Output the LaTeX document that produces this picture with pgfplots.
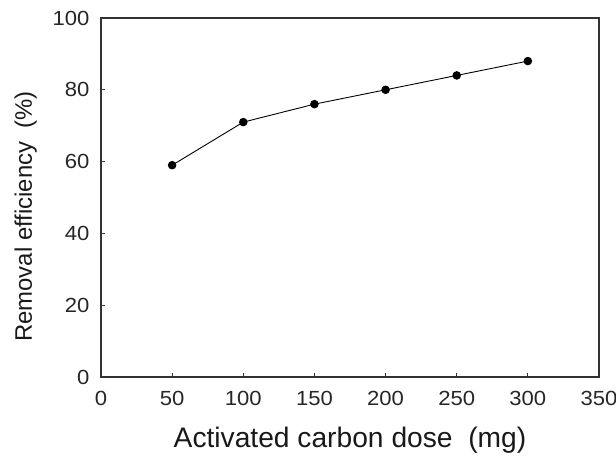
\documentclass[border=0pt]{standalone}
\usepackage{fontspec}
\setmainfont{Liberation Sans}[FakeStretch=1.08]
\newfontfamily\labelfont{Liberation Sans}
\usepackage{pgfplots}
\pgfplotsset{compat=1.18}
\begin{document}
\begin{tikzpicture}
\path[use as bounding box] (-101bp,-79bp) rectangle (515bp,377bp);
\begin{axis}[
  at={(0,0)}, anchor=south west,
  scale only axis, width=498bp, height=359bp,
  xmin=0, xmax=350, ymin=0, ymax=100,
  xtick={0,50,...,350}, ytick={0,20,...,100},
  tick align=inside, major tick length=4bp,
  xtick pos=bottom, ytick pos=left,
  axis line style={line width=1.2bp, color=black!80},
  tick style={line width=0.9bp, color=black!80},
  /pgf/number format/assume math mode=true,
  ticklabel style={font=\fontsize{20.5}{24}\selectfont, color=black!85},
  xticklabel style={yshift=-11bp},
  yticklabel style={xshift=-8bp},
  xlabel={Activated carbon dose\ \ (mg)},
  ylabel={Removal efficiency\ \ (\%)},
  xlabel style={font=\labelfont\fontsize{28.3}{31}\selectfont, color=black!90, yshift=-14bp},
  ylabel style={font=\labelfont\fontsize{24}{28}\selectfont, color=black!90, at={(ticklabel cs:0.447)}, yshift=9bp},
]
\addplot[black, line width=0.9bp, mark=*, mark size=3.8bp] coordinates {
  (50,59) (100,71) (150,76) (200,80) (250,84) (300,88)
};
\end{axis}
\end{tikzpicture}
\end{document}
